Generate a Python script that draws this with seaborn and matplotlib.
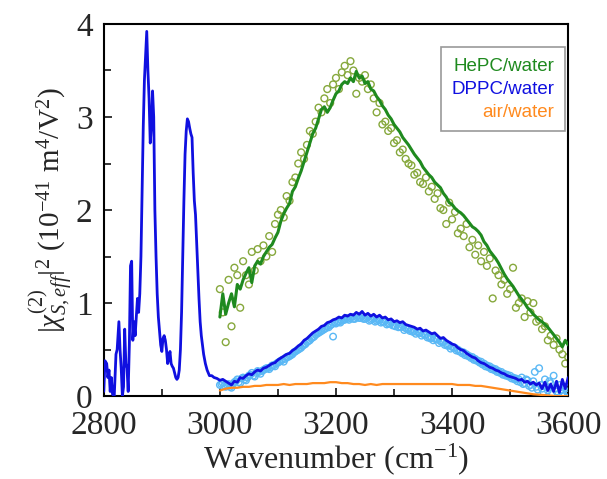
import numpy as np
import pandas as pd
import matplotlib
matplotlib.use("Agg")
import matplotlib.pyplot as plt
from matplotlib.lines import Line2D
from matplotlib.ticker import MultipleLocator
import seaborn as sns

# ---------------- data ----------------
dppc_line_x = [2800, 2802, 2805, 2807, 2809, 2811, 2813, 2815, 2818, 2821, 2823, 2826, 2828, 2830, 2832,
               2834, 2836, 2838, 2840, 2842, 2844, 2846, 2848, 2850, 2852, 2854, 2856, 2858, 2860, 2862,
               2864, 2866, 2868, 2870, 2872, 2874, 2876, 2878, 2880, 2882, 2884, 2886, 2888, 2890, 2892,
               2894, 2896, 2898, 2900, 2902, 2904, 2906, 2908, 2910, 2912, 2914, 2916, 2918, 2920, 2922,
               2924, 2926, 2928, 2930, 2932, 2934, 2936, 2938, 2940, 2942, 2944, 2946, 2948, 2950, 2952,
               2954, 2956, 2958, 2960, 2962, 2964, 2966, 2968, 2970, 2972, 2975, 2978, 2982, 2986, 2990,
               2995, 3000, 3005, 3010, 3015, 3020, 3025, 3030, 3035, 3040, 3045, 3050, 3055, 3060, 3065,
               3070, 3075, 3080, 3085, 3090, 3095, 3100, 3105, 3110, 3115, 3120, 3125, 3130, 3135, 3140,
               3145, 3150, 3155, 3160, 3165, 3170, 3175, 3180, 3185, 3190, 3195, 3200, 3205, 3210, 3215,
               3220, 3225, 3230, 3235, 3240, 3245, 3250, 3255, 3260, 3265, 3270, 3275, 3280, 3285, 3290,
               3295, 3300, 3305, 3310, 3315, 3320, 3325, 3330, 3335, 3340, 3345, 3350, 3355, 3360, 3365,
               3370, 3375, 3380, 3385, 3390, 3395, 3400, 3405, 3410, 3415, 3420, 3425, 3430, 3435, 3440,
               3445, 3450, 3455, 3460, 3465, 3470, 3475, 3480, 3485, 3490, 3495, 3500, 3505, 3510, 3515,
               3520, 3525, 3530, 3535, 3540, 3545, 3550, 3555, 3560, 3565, 3570, 3575, 3580, 3585, 3590,
               3595, 3600]
dppc_line_y = [0.05, 0.38, 0.35, 0.20, 0.28, 0.05, 0.20, 0.02, 0.00, 0.45, 0.50, 0.80, 0.50, 0.30, 0.00,
               0.10, 0.72, 0.35, 0.30, 0.05, 0.55, 1.40, 1.45, 0.60, 0.80, 0.65, 0.85, 1.05, 0.90, 1.10,
               1.50, 2.20, 2.90, 3.40, 3.65, 3.92, 3.50, 3.20, 2.72, 2.90, 3.28, 3.00, 2.00, 1.50, 1.10,
               0.85, 0.70, 0.55, 0.48, 0.62, 0.65, 0.60, 0.50, 0.35, 0.40, 0.48, 0.35, 0.32, 0.30, 0.25,
               0.20, 0.18, 0.20, 0.28, 0.50, 0.90, 1.50, 2.10, 2.60, 2.85, 2.98, 2.95, 2.88, 2.82, 2.78,
               2.40, 2.10, 1.95, 1.65, 1.35, 1.05, 0.80, 0.65, 0.55, 0.45, 0.35, 0.28, 0.22, 0.22, 0.20,
               0.19, 0.17, 0.18, 0.16, 0.14, 0.12, 0.16, 0.15, 0.20, 0.19, 0.22, 0.24, 0.23, 0.26, 0.28,
               0.27, 0.30, 0.31, 0.33, 0.35, 0.36, 0.39, 0.41, 0.43, 0.45, 0.46, 0.49, 0.51, 0.54, 0.56,
               0.60, 0.62, 0.65, 0.68, 0.70, 0.72, 0.75, 0.76, 0.79, 0.80, 0.82, 0.83, 0.85, 0.84, 0.87,
               0.86, 0.88, 0.87, 0.90, 0.88, 0.91, 0.87, 0.89, 0.86, 0.88, 0.85, 0.87, 0.84, 0.85, 0.82,
               0.83, 0.80, 0.81, 0.79, 0.80, 0.77, 0.76, 0.75, 0.74, 0.72, 0.73, 0.70, 0.71, 0.69, 0.67,
               0.68, 0.65, 0.62, 0.63, 0.60, 0.58, 0.56, 0.55, 0.52, 0.50, 0.49, 0.46, 0.44, 0.42, 0.41,
               0.38, 0.36, 0.35, 0.33, 0.31, 0.30, 0.28, 0.27, 0.25, 0.24, 0.22, 0.21, 0.20, 0.19, 0.17,
               0.18, 0.15, 0.16, 0.13, 0.15, 0.12, 0.14, 0.08, 0.15, 0.06, 0.13, 0.05, 0.16, 0.04, 0.18,
               0.08, 0.20]

scan_x = list(range(3000, 3601, 5))                    # 3000 ... 3600
scan_x_half = [v + 2.5 for v in range(3000, 3600, 5)]  # 3002.5 ... 3597.5

dppc_pts_y = [0.12, 0.14, 0.10, 0.13, 0.09, 0.15, 0.18, 0.14, 0.20, 0.17, 0.22, 0.25, 0.21, 0.27, 0.24,
              0.28, 0.30, 0.29, 0.33, 0.32, 0.36, 0.38, 0.37, 0.42, 0.43, 0.45, 0.48, 0.50, 0.52, 0.55,
              0.58, 0.60, 0.63, 0.66, 0.68, 0.70, 0.72, 0.75, 0.76, 0.64, 0.78, 0.80, 0.81, 0.82, 0.83,
              0.84, 0.83, 0.85, 0.84, 0.86, 0.83, 0.85, 0.82, 0.84, 0.81, 0.82, 0.80, 0.81, 0.78, 0.79,
              0.76, 0.77, 0.75, 0.76, 0.73, 0.72, 0.71, 0.70, 0.69, 0.68, 0.67, 0.66, 0.64, 0.63, 0.62,
              0.61, 0.59, 0.58, 0.56, 0.55, 0.53, 0.52, 0.50, 0.48, 0.47, 0.45, 0.43, 0.42, 0.40, 0.38,
              0.37, 0.35, 0.33, 0.32, 0.30, 0.29, 0.27, 0.26, 0.24, 0.23, 0.22, 0.20, 0.19, 0.18, 0.20,
              0.14, 0.17, 0.12, 0.16, 0.10, 0.30, 0.08, 0.18, 0.06, 0.14, 0.22, 0.05, 0.12, 0.03, 0.10,
              0.02]
dppc_pts2_y = [0.13, 0.11, 0.12, 0.10, 0.13, 0.16, 0.15, 0.19, 0.18, 0.20, 0.23, 0.22, 0.25, 0.26, 0.27,
               0.29, 0.30, 0.31, 0.33, 0.35, 0.37, 0.39, 0.40, 0.42, 0.44, 0.47, 0.49, 0.51, 0.54, 0.56,
               0.59, 0.62, 0.64, 0.67, 0.69, 0.71, 0.73, 0.74, 0.77, 0.79, 0.80, 0.79, 0.82, 0.84, 0.82,
               0.85, 0.83, 0.86, 0.84, 0.83, 0.84, 0.81, 0.83, 0.80, 0.82, 0.79, 0.80, 0.77, 0.78, 0.76,
               0.75, 0.74, 0.74, 0.71, 0.72, 0.70, 0.69, 0.67, 0.68, 0.65, 0.66, 0.63, 0.62, 0.60, 0.61,
               0.57, 0.58, 0.55, 0.54, 0.51, 0.52, 0.49, 0.48, 0.46, 0.44, 0.43, 0.41, 0.39, 0.38, 0.36,
               0.34, 0.32, 0.31, 0.29, 0.28, 0.26, 0.25, 0.23, 0.22, 0.21, 0.19, 0.18, 0.16, 0.15, 0.13,
               0.18, 0.11, 0.09, 0.26, 0.07, 0.12, 0.04, 0.10, 0.16, 0.03, 0.08, 0.02, 0.06, 0.01, 0.05]

hepc_line_y = [0.85, 1.10, 0.88, 1.00, 1.10, 0.96, 1.20, 1.15, 1.25, 1.32, 1.38, 1.22, 1.40, 1.45, 1.42,
               1.50, 1.55, 1.60, 1.63, 1.70, 1.76, 1.88, 1.96, 2.02, 2.07, 2.20, 2.25, 2.34, 2.42, 2.52,
               2.62, 2.72, 2.82, 2.88, 2.98, 3.08, 3.11, 3.05, 3.10, 3.18, 3.25, 3.28, 3.35, 3.38, 3.36,
               3.42, 3.38, 3.49, 3.42, 3.44, 3.36, 3.38, 3.30, 3.28, 3.22, 3.18, 3.12, 3.08, 3.02, 2.98,
               2.92, 2.88, 2.84, 2.78, 2.74, 2.70, 2.65, 2.60, 2.56, 2.52, 2.46, 2.42, 2.38, 2.35, 2.30,
               2.27, 2.24, 2.18, 2.14, 2.08, 2.06, 2.02, 1.99, 1.97, 1.94, 1.90, 1.86, 1.82, 1.80, 1.77,
               1.73, 1.66, 1.62, 1.56, 1.52, 1.48, 1.43, 1.37, 1.31, 1.26, 1.22, 1.18, 1.13, 1.08, 1.04,
               1.00, 0.95, 0.92, 0.88, 0.85, 0.82, 0.80, 0.77, 0.74, 0.70, 0.66, 0.62, 0.58, 0.53, 0.60,
               0.55]

hepc_pts_y = [1.15, 0.90, 0.58, 1.25, 0.75, 1.38, 1.30, 0.95, 1.45, 1.30, 1.20, 1.55, 1.35, 1.58, 1.45,
              1.62, 1.50, 1.72, 1.55, 1.85, 1.95, 2.00, 1.92, 2.15, 2.10, 2.30, 2.35, 2.50, 2.62, 2.55,
              2.70, 2.85, 2.82, 2.95, 3.10, 3.05, 3.20, 3.30, 3.15, 3.35, 3.42, 3.30, 3.48, 3.55, 3.45,
              3.60, 3.50, 3.25, 3.42, 3.38, 3.45, 3.30, 3.35, 3.20, 3.05, 3.15, 2.92, 2.95, 2.85, 2.88,
              2.72, 2.75, 2.62, 2.65, 2.55, 2.50, 2.48, 2.38, 2.40, 2.30, 2.28, 2.35, 2.20, 2.25, 2.12,
              2.18, 2.02, 2.00, 1.85, 2.08, 1.90, 1.98, 1.75, 1.80, 1.72, 1.85, 1.60, 1.68, 1.52, 1.62,
              1.45, 1.55, 1.40, 1.48, 1.05, 1.35, 1.30, 1.20, 1.25, 1.10, 1.15, 1.38, 0.95, 1.00, 1.05,
              0.85, 1.02, 0.90, 1.00, 0.80, 0.82, 0.72, 0.75, 0.60, 0.65, 0.55, 0.62, 0.50, 0.45, 0.35,
              0.42]

air_x = list(range(3000, 3601, 10))
air_y = [0.06, 0.08, 0.09, 0.09, 0.10, 0.10, 0.11, 0.11, 0.12, 0.12, 0.12, 0.13, 0.12, 0.13, 0.13,
         0.13, 0.14, 0.14, 0.14, 0.15, 0.15, 0.14, 0.14, 0.13, 0.13, 0.12, 0.13, 0.12, 0.13, 0.13,
         0.13, 0.13, 0.13, 0.13, 0.13, 0.13, 0.13, 0.13, 0.13, 0.13, 0.13, 0.12, 0.12, 0.12, 0.11,
         0.11, 0.10, 0.09, 0.08, 0.07, 0.06, 0.05, 0.04, 0.03, 0.02, 0.015, 0.01, 0.005, 0.0, 0.0,
         0.0]

legend_labels = ["HePC/water", "DPPC/water", "air/water"]
legend_colors = ["#1f8a1f", "#1010e0", "#ff8a1e"]

# ---------------- style ----------------
sns.set_style("ticks")
plt.rcParams["font.family"] = ["Liberation Serif", "DejaVu Serif"]
plt.rcParams["mathtext.fontset"] = "custom"
plt.rcParams["mathtext.rm"] = "Liberation Serif"
plt.rcParams["mathtext.it"] = "Liberation Serif:italic"
plt.rcParams["mathtext.bf"] = "Liberation Serif:bold"

fig = plt.figure(figsize=(6.07, 4.79), dpi=100)
ax = fig.add_axes([0.171, 0.173, 0.765, 0.777])

df_hepc_pts = pd.DataFrame({"x": scan_x, "y": hepc_pts_y})
df_hepc_line = pd.DataFrame({"x": scan_x, "y": hepc_line_y})
df_dppc_pts = pd.concat([pd.DataFrame({"x": scan_x, "y": dppc_pts_y}),
                         pd.DataFrame({"x": scan_x_half, "y": dppc_pts2_y})], ignore_index=True)
df_dppc_line = pd.DataFrame({"x": dppc_line_x, "y": dppc_line_y})
df_air = pd.DataFrame({"x": air_x, "y": air_y})

sns.scatterplot(data=df_hepc_pts, x="x", y="y", ax=ax, marker="o", s=24,
                facecolor="none", edgecolor="#86a83c", linewidth=1.0, zorder=2)
sns.lineplot(data=df_hepc_line, x="x", y="y", ax=ax, color="#1f8a1f", linewidth=2.2,
             estimator=None, sort=False, zorder=3)
sns.scatterplot(data=df_dppc_pts, x="x", y="y", ax=ax, marker="o", s=22,
                facecolor="none", edgecolor="#5ab8f5", linewidth=1.0, zorder=4)
sns.lineplot(data=df_dppc_line, x="x", y="y", ax=ax, color="#1010e0", linewidth=2.0,
             estimator=None, sort=False, zorder=5)
sns.lineplot(data=df_air, x="x", y="y", ax=ax, color="#ff8a1e", linewidth=1.6,
             estimator=None, sort=False, zorder=6)

ax.set_xlim(2800, 3600)
ax.set_ylim(0, 4)
ax.xaxis.set_major_locator(MultipleLocator(200))
ax.xaxis.set_minor_locator(MultipleLocator(100))
ax.yaxis.set_major_locator(MultipleLocator(1))
ax.yaxis.set_minor_locator(MultipleLocator(0.5))
ax.tick_params(axis="both", which="both", direction="in", top=False, right=False,
               width=1.3, labelsize=24)
ax.tick_params(axis="x", which="both", pad=10.5)
ax.tick_params(axis="y", which="both", pad=8)
ax.tick_params(which="major", length=6)
ax.tick_params(which="minor", length=5)
for s in ax.spines.values():
    s.set_linewidth(1.5)
    s.set_color("black")

ax.set_xlabel("Wavenumber (cm$^{-1}$)", fontsize=23, labelpad=0)
ax.set_ylabel(r"$|\chi^{(2)}_{S,eff}|^2$ (10$^{-41}$ m$^4$/V$^2$)", fontsize=21, labelpad=1)

handles = [Line2D([], [], linestyle="none") for _ in legend_labels]
leg = ax.legend(handles, legend_labels, loc="upper right", bbox_to_anchor=(0.993, 0.937),
                borderaxespad=0, frameon=True, fancybox=False, edgecolor="#999999",
                framealpha=1, handlelength=0, handletextpad=0, markerfirst=False,
                prop={"family": "Liberation Sans", "size": 13.5}, labelspacing=0.32,
                borderpad=0.55)
leg.get_frame().set_linewidth(1.2)
for t, c in zip(leg.get_texts(), legend_colors):
    t.set_color(c)

fig.savefig("out.png", dpi=100)
